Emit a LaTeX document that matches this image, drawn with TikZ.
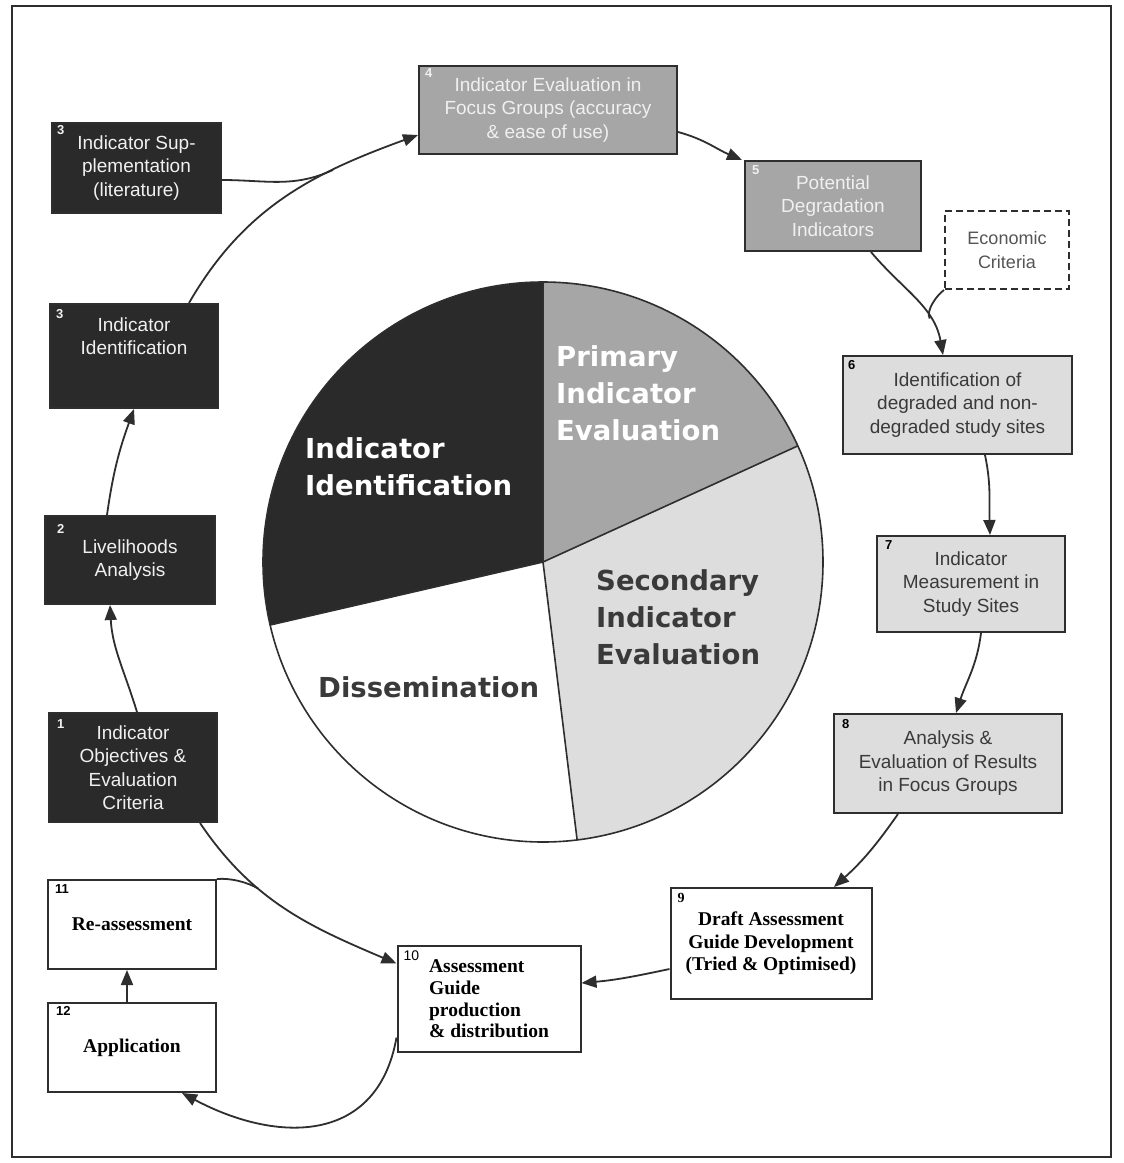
\documentclass[tikz,border=0pt]{standalone}
\usepackage{fontspec}
\setmainfont{Liberation Sans}
\newfontfamily\piefont{DejaVu Sans}
\newfontfamily\serfont{Liberation Serif}
\usetikzlibrary{arrows.meta,calc}
\definecolor{dk}{HTML}{2A2A2A}
\definecolor{md}{HTML}{A6A6A6}
\definecolor{lt}{HTML}{DDDDDD}
\definecolor{ln}{HTML}{2E2E2E}
\definecolor{wt}{HTML}{F0F0F0}
\definecolor{tx}{HTML}{3A3A3A}
\definecolor{ecotx}{HTML}{555555}
\begin{document}
\begin{tikzpicture}[x=1pt,y=1pt,
  box/.style={draw=ln, line width=2pt, rectangle, inner sep=0pt, align=center, font=\fontsize{19}{23.5}\selectfont},
  darkbox/.style={box, fill=dk, text=wt},
  midbox/.style={box, fill=md, text=wt},
  lightbox/.style={box, fill=lt, text=tx},
  ecobox/.style={box, fill=white, dashed, dash pattern=on 7pt off 4pt, text=ecotx, font=\fontsize{18}{23.5}\selectfont},
  whitebox/.style={box, fill=white, text=black, font=\serfont\bfseries\fontsize{19.5}{21.7}\selectfont},
  boxtext/.style={align=center, inner sep=0pt, font=\fontsize{19}{23.5}\selectfont},
  num/.style={anchor=north west, inner sep=0pt, font=\bfseries\fontsize{13}{13}\selectfont},
  arr/.style={draw=ln, line width=1.8pt, -{Triangle[length=15pt,width=12pt]}},
  link/.style={draw=ln, line width=1.8pt},
  pietext/.style={anchor=west, align=left, inner sep=0pt, font=\piefont\bfseries\fontsize{27.5}{37}\selectfont},
]
\useasboundingbox (0,0) rectangle (1124,-1163);
\fill[white] (0,0) rectangle (1124,-1163);
\draw[line width=1.5pt, ln] (12,-6) rectangle (1111,-1157);

% pie
\coordinate (pc) at (543,-562);
\fill[md] (pc) -- ++(24.5:280pt) arc[start angle=24.5,end angle=90,radius=280pt] -- cycle;
\fill[dk] (pc) -- ++(90:280pt) arc[start angle=90,end angle=193,radius=280pt] -- cycle;
\fill[white] (pc) -- ++(193:280pt) arc[start angle=193,end angle=277,radius=280pt] -- cycle;
\fill[lt] (pc) -- ++(277:280pt) arc[start angle=277,end angle=384.5,radius=280pt] -- cycle;
\draw[line width=1.6pt, ln] (pc) circle[radius=280pt];
\draw[line width=1.6pt, ln] (pc) -- ++(24.5:280pt) (pc) -- ++(90:280pt) (pc) -- ++(193:280pt) (pc) -- ++(277:280pt);
\node[pietext, text=white] (pPrim) at (556,-393) {Primary\\Indicator\\Evaluation};
\node[pietext, text=white] (pIdent) at (305,-467) {Indicator\\Identification};
\node[pietext, text=tx] (pSec) at (596,-617) {Secondary\\Indicator\\Evaluation};
\node[pietext, text=tx] (pDis) at (318,-687) {Dissemination};

% boxes
\node[darkbox, minimum width=169pt, minimum height=90pt] (bS) at (136.5,-168) {Indicator Sup-\\plementation\\(literature)};
\node[darkbox, minimum width=168pt, minimum height=104pt] (bI) at (134,-356) {};
\node[boxtext, text=wt] (tI) at (134,-336) {Indicator\\Identification};
\node[darkbox, minimum width=170pt, minimum height=88pt] (b2) at (130,-560) {Livelihoods\\Analysis};
\node[darkbox, minimum width=168pt, minimum height=109pt] (b1) at (133,-767.5) {Indicator\\Objectives \&\\Evaluation\\Criteria};
\node[midbox, minimum width=258pt, minimum height=88pt] (b4) at (548,-110) {Indicator Evaluation in\\Focus Groups (accuracy\\\& ease of use)};
\node[midbox, minimum width=176pt, minimum height=90pt] (b5) at (833,-206) {Potential\\Degradation\\Indicators};
\node[ecobox, minimum width=124pt, minimum height=78pt] (eco) at (1007,-250) {Economic\\Criteria};
\node[lightbox, minimum width=229pt, minimum height=98pt] (b6) at (957.5,-405) {Identification of\\degraded and non-\\degraded study sites};
\node[lightbox, minimum width=188pt, minimum height=96pt] (b7) at (971,-584) {Indicator\\Measurement in\\Study Sites};
\node[lightbox, minimum width=228pt, minimum height=99pt] (b8) at (948,-763.5) {Analysis \&\\Evaluation of Results\\in Focus Groups};
\node[whitebox, font=\serfont\bfseries\fontsize{19.5}{22.5}\selectfont, minimum width=201pt, minimum height=111pt] (b9) at (771,-943.5) {Draft Assessment\\Guide Development\\(Tried \& Optimised)};
\node[whitebox, align=left, minimum width=183pt, minimum height=106pt] (b10) at (489,-999) {Assessment\\Guide\\production\\\& distribution};
\node[whitebox, minimum width=168pt, minimum height=89pt] (b11) at (132,-924.5) {Re-assessment};
\node[whitebox, minimum width=168pt, minimum height=89pt] (b12) at (132,-1047.5) {Application};

% numbers
\node[num, text=wt] (nS) at ($(bS.north west)+(6,-3)$) {3};
\node[num, text=wt] (nI) at ($(bI.north west)+(7,-6)$) {3};
\node[num, text=wt] (n2) at ($(b2.north west)+(13,-9)$) {2};
\node[num, text=wt] (n1) at ($(b1.north west)+(9,-7)$) {1};
\node[num, text=wt] (n4) at ($(b4.north west)+(7,-3)$) {4};
\node[num, text=wt] (n5) at ($(b5.north west)+(8,-5)$) {5};
\node[num, text=black] (n6) at ($(b6.north west)+(6,-5)$) {6};
\node[num, text=black] (n7) at ($(b7.north west)+(9,-5)$) {7};
\node[num, text=black] (n8) at ($(b8.north west)+(9,-6)$) {8};
\node[num, text=black, font=\serfont\bfseries\fontsize{14}{14}\selectfont] (n9) at ($(b9.north west)+(8,-6)$) {9};
\node[num, text=black, font=\fontsize{14}{14}\selectfont] (n10) at ($(b10.north west)+(7,-6)$) {10};
\node[num, text=black] (n11) at ($(b11.north west)+(8,-5)$) {11};
\node[num, text=black] (n12) at ($(b12.north west)+(9,-4)$) {12};

% connectors
\draw[arr] ($(b1.north)+(4,0)$) to[out=107,in=273] ($(b2.south)+(-20,0)$);
\draw[arr] ($(b2.north)+(-23,0)$) to[out=82,in=250] (bI.south);
\draw[arr] ($(bI.north)+(55,0)$) to[out=60,in=200] coordinate[pos=0.7] (m2) ($(b4.west)+(0,-25)$);
\draw[link] ($(bS.east)+(0,-12)$) to[out=0,in=205] (m2);
\draw[arr] ($(b4.east)+(0,-22)$) to[out=-15,in=157] ($(b5.north west)+(-2,0)$);
\draw[arr] ($(b5.south)+(38,0)$) to[out=-50,in=100] coordinate[pos=0.7] (m3) ($(b6.north)+(-14.5,0)$);
\draw[link] (eco.south west) to[out=215,in=118,looseness=0.7] (m3);
\draw[arr] ($(b6.south)+(27.5,0)$) to[out=-78,in=92] ($(b7.north)+(19,0)$);
\draw[arr] ($(b7.south)+(10,0)$) to[out=-97,in=72] ($(b8.north)+(8,0)$);
\draw[arr] ($(b8.south)+(-50,0)$) to[out=-125,in=42] ($(b9.north)+(63,0)$);
\draw[arr] ($(b9.west)+(0,-25.5)$) to[out=192,in=5] ($(b10.east)+(0,16)$);
\draw[arr] ($(b1.south)+(67,0)$) to[out=-56,in=157] coordinate[pos=0.35] (m1) ($(b10.west)+(0,35.5)$);
\draw[link] (b11.north east) to[out=5,in=150,looseness=0.8] (m1);
\draw[arr] ($(b12.north)+(-5,0)$) -- ($(b11.south)+(-5,0)$);
\draw[arr] ($(b10.west)+(0,-38.5)$) to[out=-100,in=-28,looseness=1.25] ($(b12.south)+(50,0)$);
\end{tikzpicture}
\end{document}
